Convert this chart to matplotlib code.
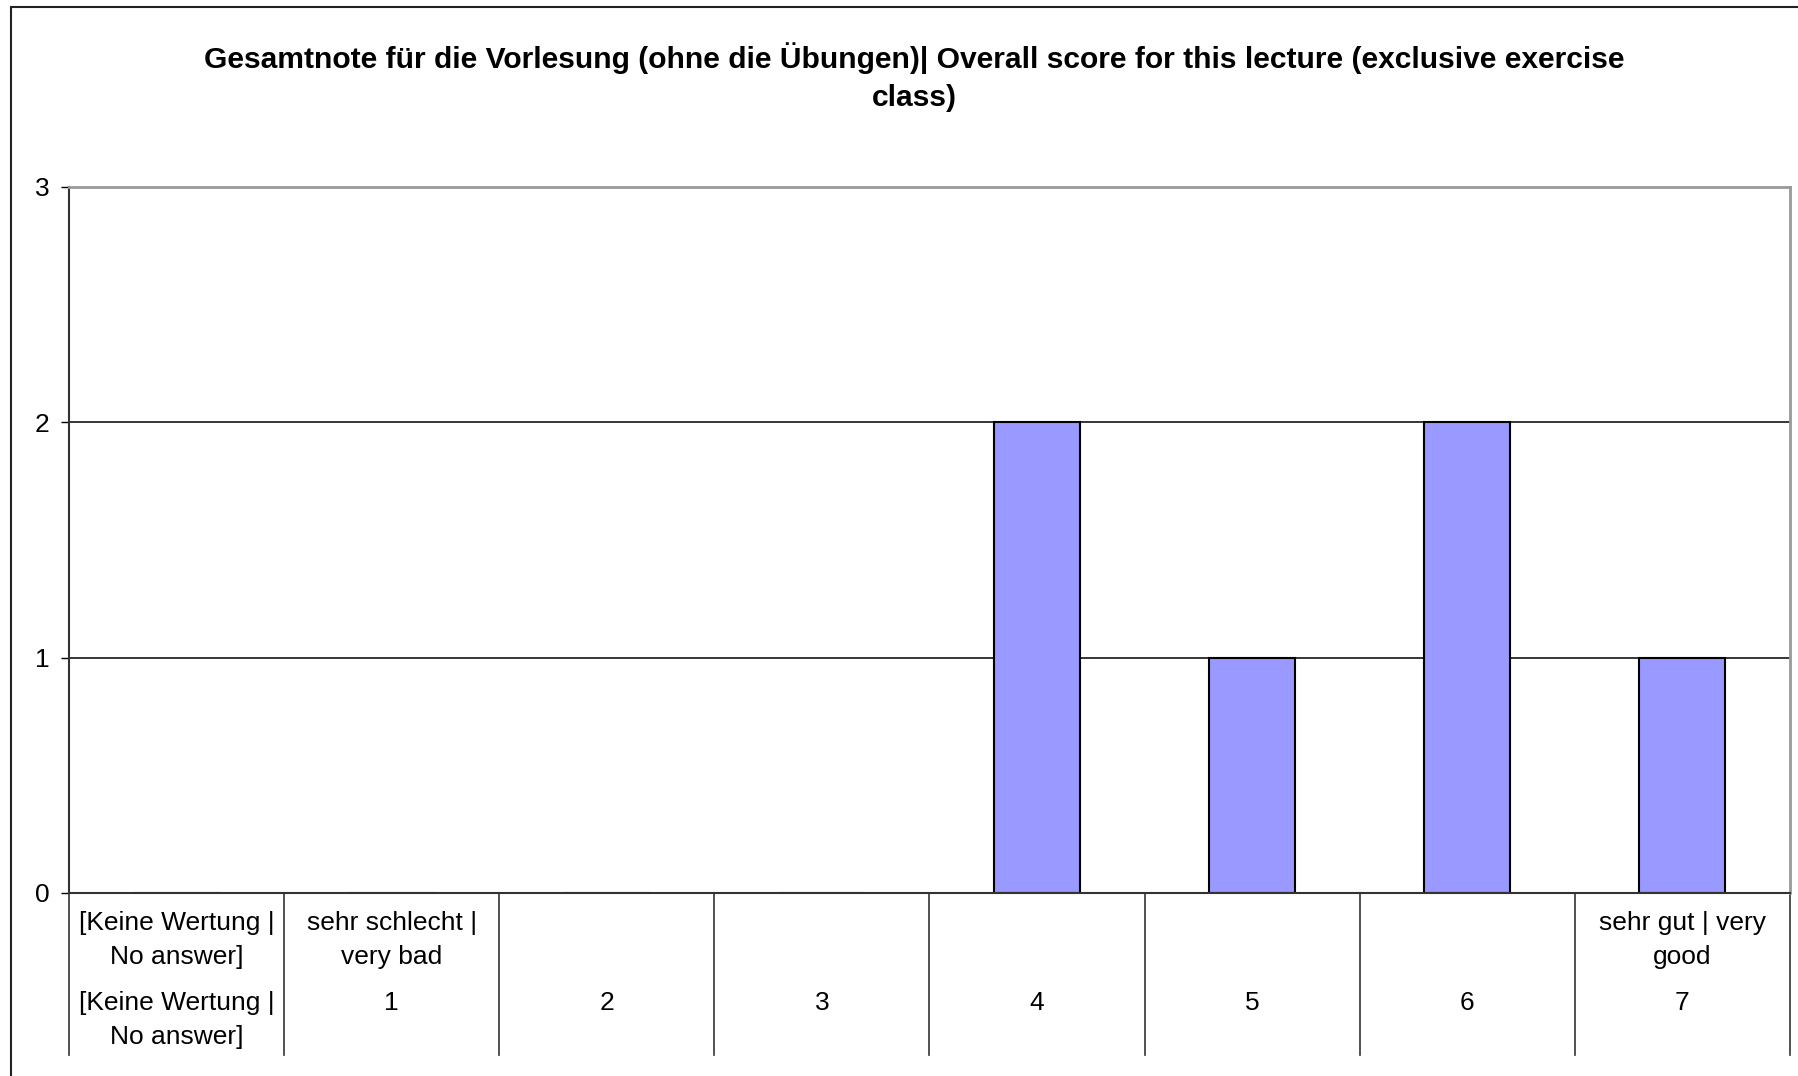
import matplotlib.pyplot as plt
import matplotlib.patches as mpatches
import matplotlib.transforms as mtransforms

plt.rcParams['font.family'] = ['Liberation Sans', 'DejaVu Sans']

# Data
title = ('Gesamtnote für die Vorlesung (ohne die Übungen)| Overall score for this lecture (exclusive exercise\n'
         'class)')
top_labels = ['[Keine Wertung |\nNo answer]', 'sehr schlecht |\nvery bad', '', '', '', '', '', 'sehr gut | very\ngood']
bottom_labels = ['[Keine Wertung |\nNo answer]', '1', '2', '3', '4', '5', '6', '7']
counts = [0, 0, 0, 0, 2, 1, 2, 1]
yticks = [0, 1, 2, 3]

fig = plt.figure(figsize=(17.98, 10.76), dpi=100)
ax = fig.add_axes([69 / 1798, 1 - 893 / 1076, (1790 - 69) / 1798, (893 - 187) / 1076])

# outer frame of the chart
fig.patches.append(mpatches.Rectangle((11 / 1798, -0.1), 1.2, 0.1 + (1 - 7 / 1076),
                                      transform=fig.transFigure, fill=False,
                                      edgecolor='#222222', linewidth=1.5))

x = list(range(len(counts)))
ax.bar(x, counts, width=0.4, color='#9999FF', edgecolor='black', linewidth=1.5, zorder=2)

ax.set_xlim(-0.5, len(counts) - 0.5)
ax.set_ylim(0, 3)
ax.set_yticks(yticks)
ax.set_yticklabels([str(t) for t in yticks], fontsize=19)
ax.tick_params(axis='y', length=6, width=1, pad=8, direction='out')
ax.set_xticks([])

for y in yticks[1:-1]:
    ax.axhline(y, color='black', linewidth=1.1, zorder=1)

ax.spines['left'].set_color('#333333')
ax.spines['left'].set_linewidth(1.5)
ax.spines['bottom'].set_color('#333333')
ax.spines['bottom'].set_linewidth(1.5)
ax.spines['top'].set_color('#999999')
ax.spines['top'].set_linewidth(2)
ax.spines['right'].set_color('#999999')
ax.spines['right'].set_linewidth(2)

# category table below the axis
trans = mtransforms.blended_transform_factory(ax.transData, ax.transAxes)
for k in range(len(counts) + 1):
    ax.plot([k - 0.5, k - 0.5], [0, -0.229], transform=trans, color='#333333',
            linewidth=1.2, clip_on=False)

for i in x:
    if top_labels[i]:
        ax.text(i, -0.0255, top_labels[i], transform=trans, ha='center', va='top',
                fontsize=19, linespacing=1.5)
    ax.text(i, -0.139, bottom_labels[i], transform=trans, ha='center', va='top',
            fontsize=19, linespacing=1.5)

fig.text(914 / 1798, 1 - 77 / 1076, title, ha='center', va='center',
         fontsize=21.6, fontweight='bold', linespacing=1.45)

fig.savefig('out.png', dpi=100)
